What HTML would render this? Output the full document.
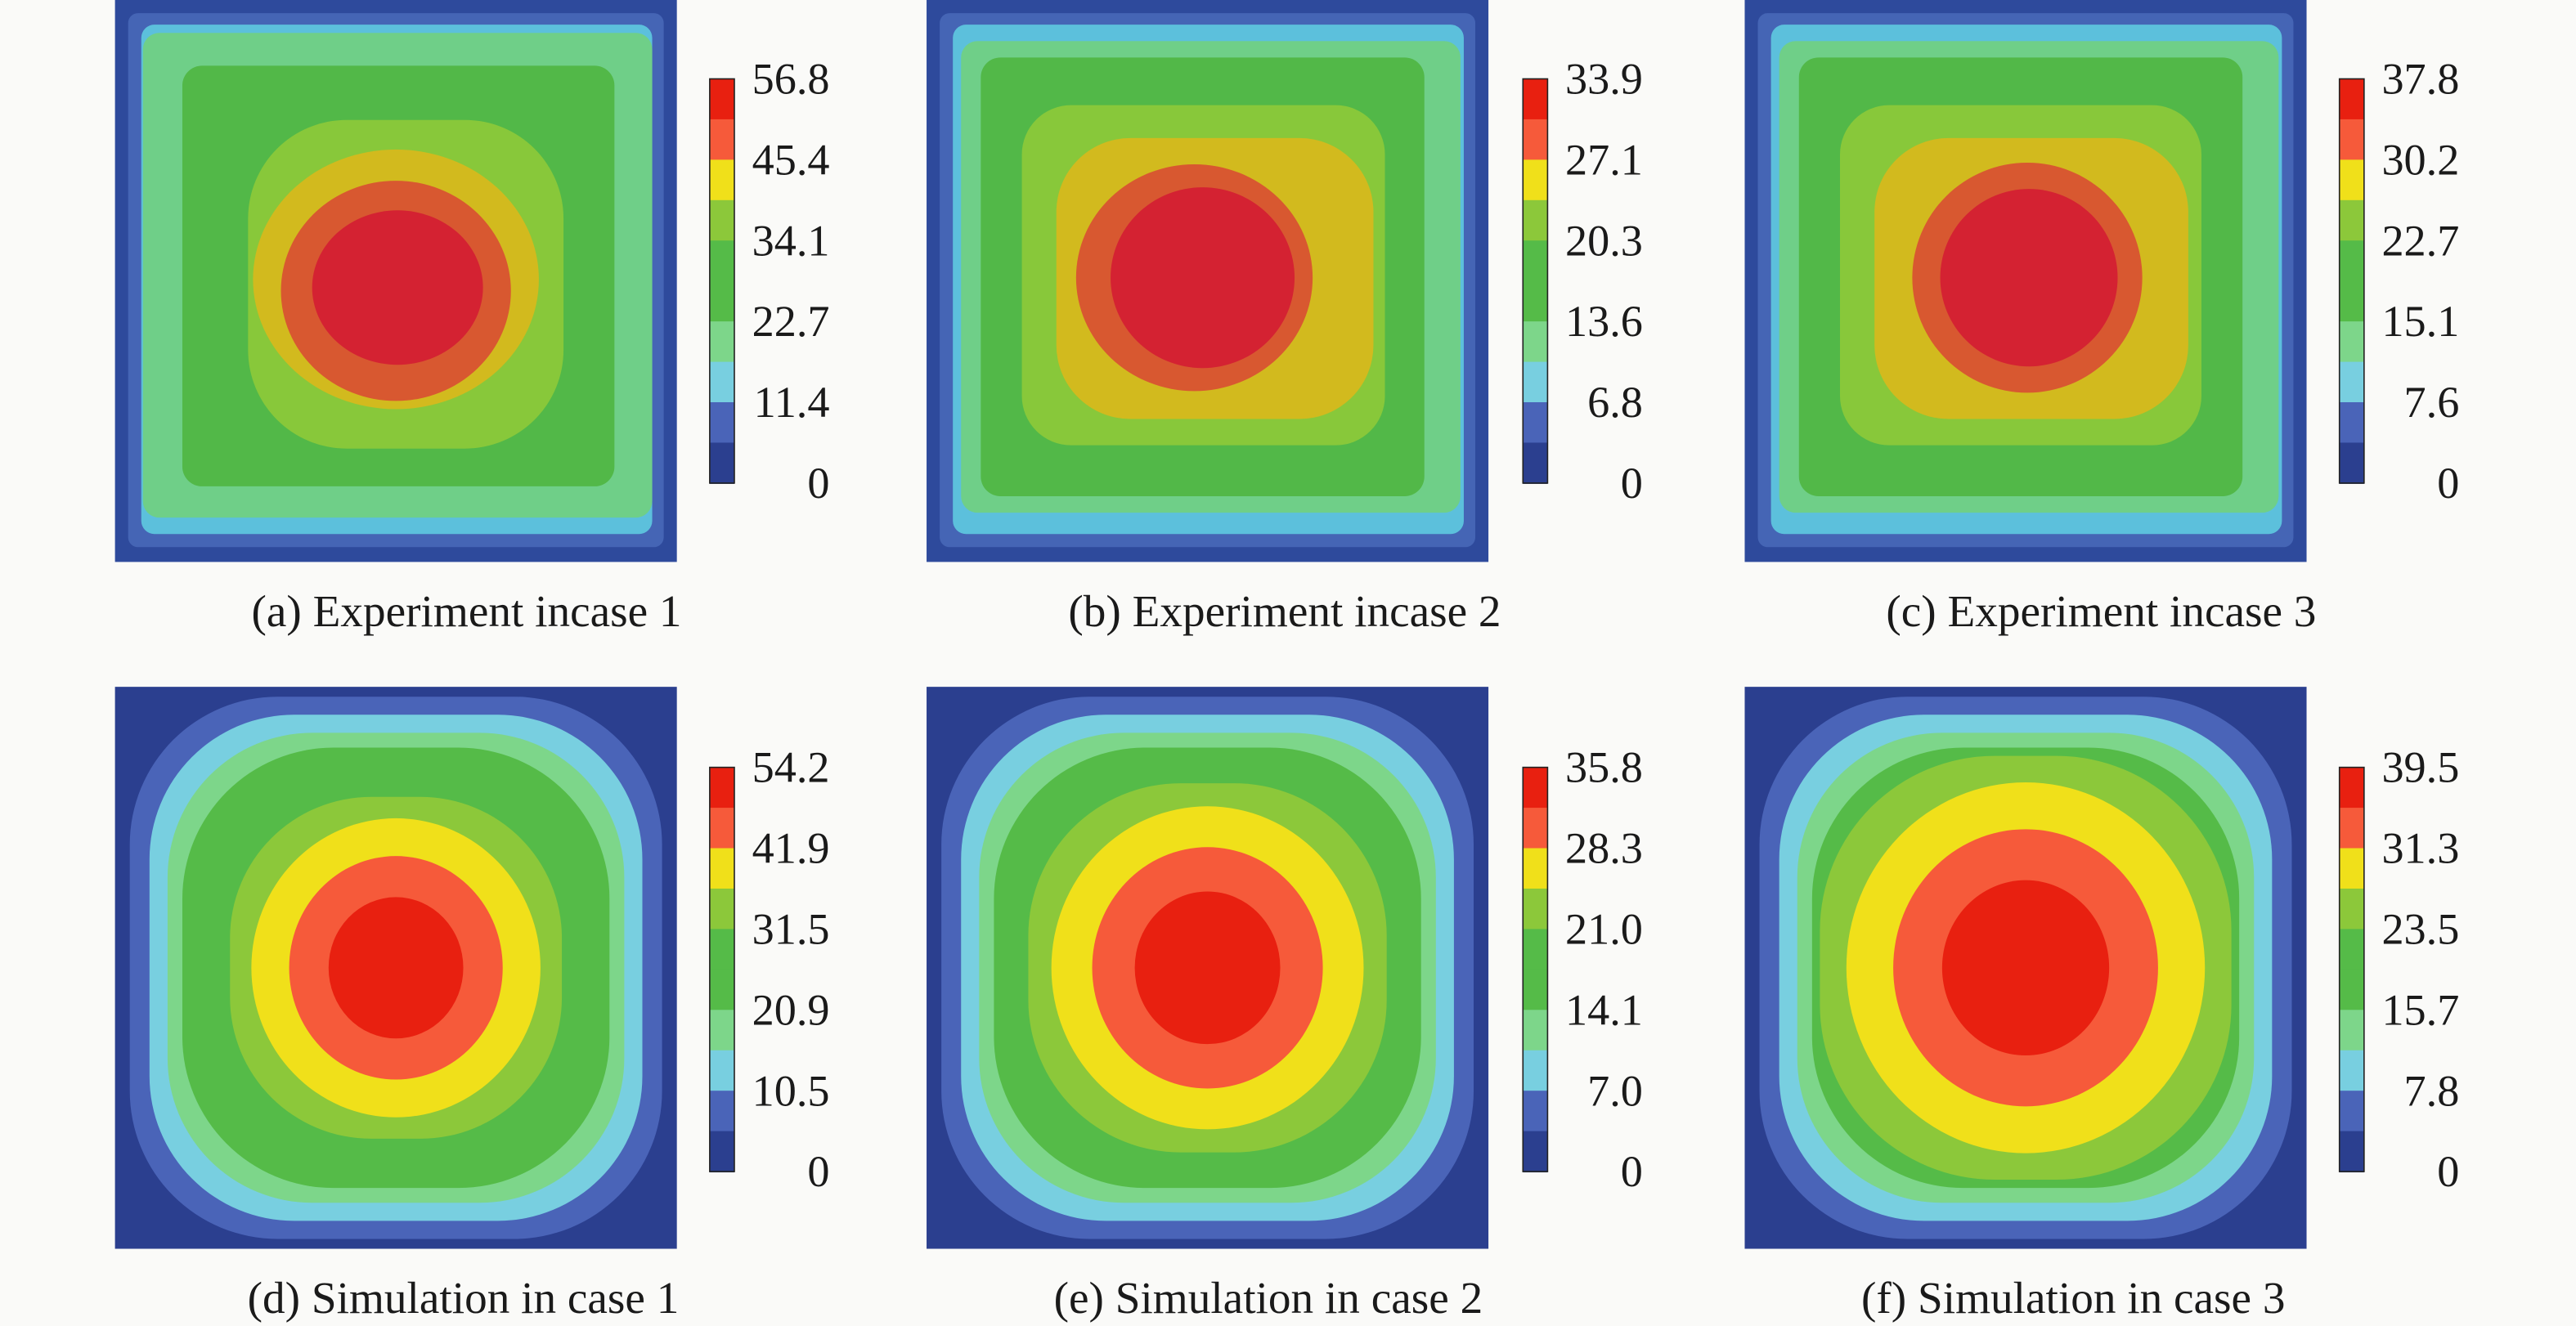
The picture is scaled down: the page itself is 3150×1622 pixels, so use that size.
<!DOCTYPE html>
<html><head><meta charset="utf-8"><style>
html,body{margin:0;padding:0;background:#fafaf8;}
svg{display:block;}
text{font-family:"Liberation Serif",serif;fill:#1a1a1a;}
</style></head><body>
<svg id="s" width="3150" height="1622" viewBox="0 0 1568 807" preserveAspectRatio="none" xmlns="http://www.w3.org/2000/svg">
<rect width="1568" height="807" fill="#fafaf8"/>
</svg>
<script>
var s=document.getElementById('s'),NS='http://www.w3.org/2000/svg';
function el(t,a,txt){var e=document.createElementNS(NS,t);for(var k in a)e.setAttribute(k,a[k]);if(txt!==undefined)e.textContent=txt;s.appendChild(e);return e;}
var C={navy:'#2b3f8f',blue:'#4a64b8',cyan:'#78cfe0',lg:'#7dd68a',g:'#55bb48',yg:'#8cc83a',y:'#f0e01a',o:'#f65a3a',r:'#e82010'};
function rr(cx,cy,hx,hy,r,f){el('rect',{x:cx-hx,y:cy-hy,width:2*hx,height:2*hy,rx:r,ry:r,fill:f});}
function R(x1,y1,x2,y2,r,f){el('rect',{x:x1,y:y1,width:x2-x1,height:y2-y1,rx:r,ry:r,fill:f});}
function E(cx,cy,rx,ry,f){el('ellipse',{cx:cx,cy:cy,rx:rx,ry:ry,fill:f});}
function sim(x0,y0,k){
  var cx=x0+171,cy=y0+171;
  el('rect',{x:x0,y:y0,width:342,height:342,fill:C.navy});
  rr(cx,cy,162,165,90,C.blue);
  rr(cx,cy,150,154,88,C.cyan);
  rr(cx,cy,139,143,88,C.lg);
  rr(cx,cy,130,134,92,C.g);
  var h=Math.min(101*k,128);
  rr(cx,cy,h,Math.min(104*k,132),h*0.85,C.yg);
  E(cx,cy,k*88,k*91,C.y);
  E(cx,cy,k*65,k*68,C.o);
  E(cx,cy,k*41,k*43,C.r);
}
function base(x0){
  var y0=0;
  R(x0,0,x0+342,342,0,'#2e4a9c');
  R(x0+8,8,x0+334,333,6,'#4565b5');
  R(x0+16,15,x0+327,325,8,'#5cc0dc');
}
// (a)
base(70);
R(87,20,397,315,10,'#6fcf88');
R(111,40,374,296,12,'#52b848');
R(151,73,343,273,60,'#88c83a');
E(241,170,87,79,'#d2ba1e');
E(241,177,70,67,'#d85830');
E(242,175,52,47,'#d42232');
// (b)
base(564);
R(585,25,889,312,10,'#6fcf88');
R(597,35,867,302,12,'#52b848');
R(622,64,843,271,30,'#88c83a');
R(643,84,836,255,45,'#d2ba1e');
E(727,169,72,69,'#d85830');
E(732,169,56,55,'#d42232');
// (c)
base(1062);
R(1083,25,1387,312,10,'#6fcf88');
R(1095,35,1365,302,12,'#52b848');
R(1120,64,1340,271,30,'#88c83a');
R(1141,84,1332,255,45,'#d2ba1e');
E(1234,169,70,70,'#d85830');
E(1235,169,54,54,'#d42232');

sim(70,418,1.0);sim(564,418,1.08);sim(1062,418,1.24);
function cbar(x,y,labs){
  var cols=[C.r,C.o,C.y,C.yg,C.g,C.g,C.lg,C.cyan,C.blue,C.navy];
  var h=246/10;
  for(var i=0;i<10;i++)el('rect',{x:x,y:y+i*h,width:15,height:h+0.5,fill:cols[i]});
  el('rect',{x:x,y:y,width:15,height:246,fill:'none',stroke:'#222','stroke-width':0.8});
  for(var j=0;j<6;j++){
    el('text',{x:x+73,y:y+j*49.2+9,'font-size':27,'text-anchor':'end'},labs[j]);
  }
}
cbar(432,48,['56.8','45.4','34.1','22.7','11.4','0']);
cbar(927,48,['33.9','27.1','20.3','13.6','6.8','0']);
cbar(1424,48,['37.8','30.2','22.7','15.1','7.6','0']);
cbar(432,467,['54.2','41.9','31.5','20.9','10.5','0']);
cbar(927,467,['35.8','28.3','21.0','14.1','7.0','0']);
cbar(1424,467,['39.5','31.3','23.5','15.7','7.8','0']);
var caps=[[284,381,'(a) Experiment incase 1'],[782,381,'(b) Experiment incase 2'],[1279,381,'(c) Experiment incase 3'],
[282,799,'(d) Simulation in case 1'],[772,799,'(e) Simulation in case 2'],[1262,799,'(f) Simulation in case 3']];
caps.forEach(function(c){el('text',{x:c[0],y:c[1],'font-size':27.5,'text-anchor':'middle'},c[2]);});
</script>
</body></html>
